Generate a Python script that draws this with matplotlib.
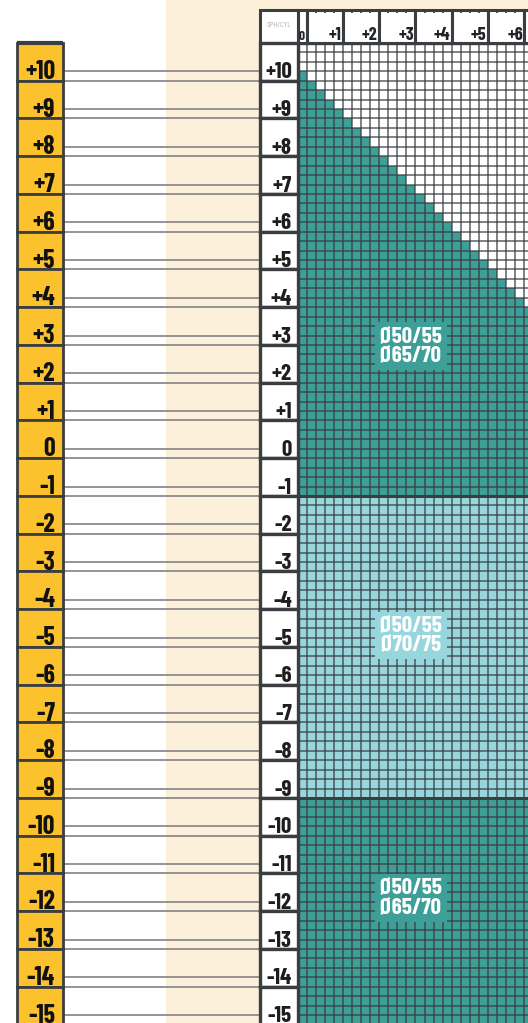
import matplotlib
matplotlib.use('Agg')
import matplotlib.pyplot as plt
import numpy as np
from matplotlib.colors import ListedColormap
from matplotlib.patches import Rectangle

# --- data ---
sph_labels = list(range(10, -16, -1))            # +10 .. -15, one row per diopter
cyl_labels = ['0', '+1', '+2', '+3', '+4', '+5', '+6']
cyl_steps = np.arange(0, 7.01, 0.25)              # fine columns, 0.25 D
sph_steps = np.arange(-15.5, 10.76, 0.25)         # fine rows, 0.25 D
max_power = 10.0                                  # top zone: sph + cyl <= max_power
zone_tops = [11.0, -1.0, -9.0]
zone_bottoms = [-1.0, -9.0, -16.0]
zone_names = ['Ø50/55\nØ65/70', 'Ø50/55\nØ70/75', 'Ø50/55\nØ65/70']
zone_label_y = [2.97, -4.7, -11.65]

# colours
TEAL = '#3e9f98'
LIGHT = '#98d6dd'
YELLOW = '#fcc22e'
BEIGE = '#fdf0da'
DARK = '#3a3d41'
GREY = '#8c8c8c'

plt.rcParams['font.family'] = ['Barlow Condensed', 'DejaVu Sans']

# layout: pixels -> diopter units (x: 36.3 px per D from 297.5, y: 37.75 px per D, 43 px == +11)
def px2x(p):
    return (p - 297.5) / 36.3

def px2y(p):
    return 11 - (p - 43) / 37.75

fig = plt.figure(figsize=(5.28, 10.23), dpi=100)
ax = fig.add_axes([0, 0, 1, 1])
ax.set_xlim(px2x(0), px2x(528))
ax.set_ylim(px2y(1023), px2y(0))
ax.axis('off')

# beige band behind the sphere column and grid
ax.add_patch(Rectangle((px2x(166), px2y(1030)), 20, 40, fc=BEIGE, ec='none', zorder=0))

# --- fine grid ---
xe = np.append(cyl_steps, cyl_steps[-1] + 0.25)
ye = np.append(sph_steps, sph_steps[-1] + 0.25)
vals = np.zeros((len(sph_steps), len(cyl_steps)))
for i, s in enumerate(sph_steps):
    for j, c in enumerate(cyl_steps):
        if s >= zone_bottoms[0]:
            vals[i, j] = 1 if s + c <= max_power else 0
        elif s >= zone_bottoms[1]:
            vals[i, j] = 2
        else:
            vals[i, j] = 1
cmap = ListedColormap(['white', TEAL, LIGHT])
ax.pcolormesh(xe, ye, vals, cmap=cmap, vmin=-0.5, vmax=2.5, zorder=1)
ax.hlines(ye, 0, xe[-1], colors=DARK, alpha=0.7, lw=1.3, zorder=2)
ax.vlines(xe, ye[0], ye[-1], colors=DARK, alpha=0.7, lw=1.3, zorder=2)
ax.hlines(zone_tops[1:], 0, xe[-1], colors=DARK, lw=2.2, zorder=3)
ax.vlines(0, ye[0], ye[-1], colors=DARK, lw=2.2, zorder=3)
ax.hlines(11, 0, xe[-1], colors=DARK, lw=2.4, zorder=3)

# zone labels
for name, y, ztop in zip(zone_names, zone_label_y, zone_tops):
    fc = LIGHT if ztop == zone_tops[1] else TEAL
    ax.text(px2x(411), y, name, ha='center', va='center', color='white',
            fontsize=16.5, fontweight='bold', linespacing=0.95, zorder=5,
            bbox=dict(boxstyle='square,pad=0.18', fc=fc, ec='none'))

# --- header row ---
head_top = px2y(10)
edges = [0, 0.25] + [k + 0.25 for k in range(1, len(cyl_labels) + 1)]
ax.add_patch(Rectangle((px2x(260), 11), px2x(297.5) - px2x(260), head_top - 11,
                       fc='white', ec=DARK, lw=2.2, zorder=4))
ax.text((px2x(260) + 0) / 2, px2y(26), 'SPH/CYL', ha='center', va='center',
        fontsize=6, color='#b4b4b4', zorder=5)
for k in range(len(edges) - 1):
    x1, x2 = edges[k], edges[k + 1]
    ax.add_patch(Rectangle((x1, 11), x2 - x1, head_top - 11, fc='white', ec=DARK, lw=2.2, zorder=4))
for k, lab in enumerate(cyl_labels):
    ax.text(edges[k + 1] - 0.04, 11.08, lab, ha='right', va='baseline',
            fontsize=9.5 if k == 0 else 13, fontweight='bold',
            color='#222222', zorder=5)
ax.vlines(xe, head_top - 0.09, head_top, colors=DARK, lw=1.3, zorder=5)

# --- sphere column and yellow labels with connector lines ---
for L in sph_labels:
    lab = '%+d' % L if L != 0 else '0'
    ax.add_patch(Rectangle((px2x(260), L), px2x(297.5) - px2x(260), 1,
                           fc='white', ec=DARK, lw=2.4, zorder=4))
    ax.text(px2x(292), L + 0.06, lab, ha='right', va='baseline', fontsize=16.5,
            fontweight='bold', color='#1e1e1e', zorder=5)
    ax.add_patch(Rectangle((px2x(17), L), px2x(63) - px2x(17), 1,
                           fc=YELLOW, ec=DARK, lw=2.0, zorder=4))
    ax.text(px2x(55), L + 0.05, lab, ha='right', va='baseline', fontsize=18.5,
            fontweight='bold', color='#111111', zorder=5)
    ax.hlines([L + 0.25, L], px2x(63), px2x(260), colors=GREY, lw=1.3, zorder=3)
ax.hlines(11, px2x(17), px2x(63), colors=DARK, lw=3, zorder=5)

fig.savefig('out.png', dpi=100)
